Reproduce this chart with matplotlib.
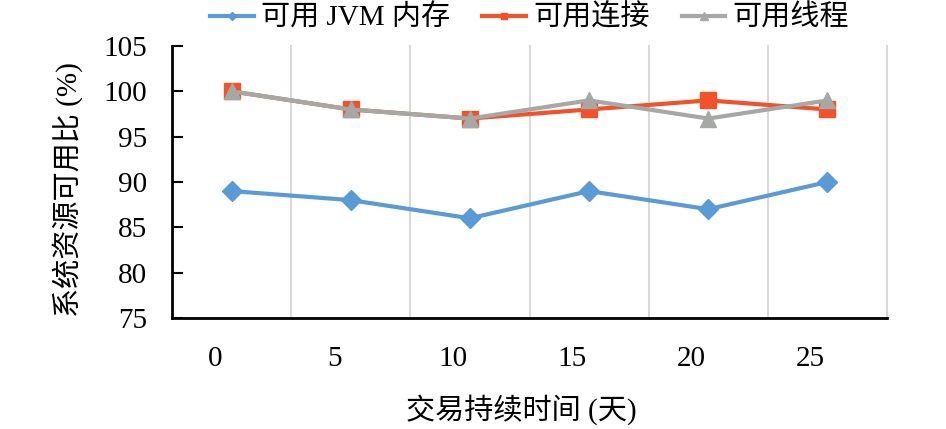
import numpy as np
import matplotlib
matplotlib.use('Agg')
import matplotlib.pyplot as plt

plt.rcParams['font.family'] = ['Liberation Serif', 'Noto Sans CJK SC', 'DejaVu Sans']

# data
days = ['0', '5', '10', '15', '20', '25']
jvm_mem = [89, 88, 86, 89, 87, 90]
conn = [100, 98, 97, 98, 99, 98]
threads = [100, 98, 97, 99, 97, 99]

fig = plt.figure(figsize=(9.46, 4.29), dpi=100)
ax = fig.add_axes([172 / 946, 1 - 318 / 429, 715 / 946, 272 / 429])

x = np.arange(len(days))

# light vertical separators between categories
for b in np.arange(0.5, len(days) + 0.5, 1):
    ax.axvline(b, color='#D9D9D9', lw=1.5, zorder=0, clip_on=False)

ax.plot(x, jvm_mem, color='#5B9BD5', lw=3, marker='D', ms=10, label='可用 JVM 内存')
ax.plot(x, conn, color='#F2522A', lw=3, marker='s', ms=11, label='可用连接')
ax.plot(x, threads, color='#A5A8A5', lw=3, marker='^', ms=12, label='可用线程')

ax.set_xlim(-0.5, len(days) - 0.5)
ax.set_ylim(75, 105)
ax.set_yticks(np.arange(75, 106, 5))
ax.set_xticks(x - 0.14)
ax.set_xticklabels(days)

ax.tick_params(axis='y', direction='in', length=8, width=1.5, labelsize=21, pad=18)
ax.tick_params(axis='x', length=0, labelsize=21, pad=20)

for s in ['top', 'right']:
    ax.spines[s].set_visible(False)
for s in ['left', 'bottom']:
    ax.spines[s].set_linewidth(2)
    ax.spines[s].set_color('black')

ax.set_ylabel('系统资源可用比 (%)', fontsize=21)
ax.yaxis.set_label_coords(-0.125, 0.474)
ax.set_xlabel('交易持续时间 (天)', fontsize=21, va='top')
ax.xaxis.set_label_coords(0.488, -0.28)

fig.legend(loc='center', bbox_to_anchor=(529.5 / 946, 1 - 18 / 429), ncol=3,
           frameon=False, fontsize=21, handlelength=1.5, handletextpad=0.25,
           columnspacing=1.1, markerscale=0.45)

fig.savefig('out.png', dpi=100)
